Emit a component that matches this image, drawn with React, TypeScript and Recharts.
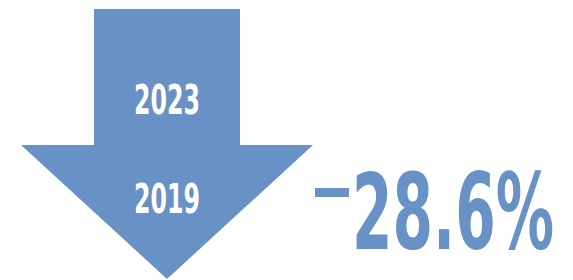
import { BarChart, Bar, XAxis, YAxis, LabelList } from "recharts";

const years = ["2023", "2019"];
const changes = [-28.6];

const data = changes.map((c) => ({
  name: `${years[1]}-${years[0]}`,
  drop: Math.abs(c),
  change: c,
}));

const BLUE = "#6892c5";
const FONT = "'Liberation Sans Narrow', 'DejaVu Sans Condensed', 'Roboto', sans-serif";

const ArrowShape = (props: any) => {
  const { x, y, width: w, height: h } = props;
  const sl = x + w * (73 / 292);
  const sr = x + w * (219 / 292);
  const hb = y + h * (136 / 270);
  const cx = x + w / 2;
  const pts = [
    [sl, y],
    [sr, y],
    [sr, hb],
    [x + w, hb],
    [cx, y + h],
    [x, hb],
    [sl, hb],
  ]
    .map((p) => p.join(","))
    .join(" ");
  return (
    <g>
      <polygon points={pts} fill={BLUE} />
      <text
        x={cx}
        y={y + 105}
        textAnchor="middle"
        fill="#fff"
        fontFamily={FONT}
        fontWeight="bold"
        fontSize={41}
        textLength={66}
        lengthAdjust="spacingAndGlyphs"
      >
        {years[0]}
      </text>
      <text
        x={cx}
        y={y + 204}
        textAnchor="middle"
        fill="#fff"
        fontFamily={FONT}
        fontWeight="bold"
        fontSize={41}
        textLength={66}
        lengthAdjust="spacingAndGlyphs"
      >
        {years[1]}
      </text>
    </g>
  );
};

// sign is drawn on its own: in the source it sits high and wide
const PctLabel = (props: any) => {
  const { x, y, width, height, value } = props;
  const left = x + width;
  const base = y + height - 30;
  const sign = value < 0 ? "-" : "+";
  const num = `${Math.abs(value)}%`;
  return (
    <g fill={BLUE} fontFamily={FONT} fontWeight="bold">
      <text
        x={left - 4}
        y={base - 38}
        fontSize={62}
        textLength={46}
        lengthAdjust="spacingAndGlyphs"
      >
        {sign}
      </text>
      <text
        x={left + 39}
        y={base}
        fontSize={106}
        textLength={202}
        lengthAdjust="spacingAndGlyphs"
      >
        {num}
      </text>
    </g>
  );
};

export default function App() {
  return (
    <div style={{ position: "absolute", left: 0, top: 0, background: "#fff" }}>
      <BarChart
        width={573}
        height={280}
        data={data}
        margin={{ top: 9, right: 260, bottom: 1, left: 21 }}
        barCategoryGap={0}
      >
        <XAxis dataKey="name" hide />
        <YAxis hide domain={[0, 28.6]} />
        <Bar dataKey="drop" shape={<ArrowShape />} isAnimationActive={false}>
          <LabelList dataKey="change" content={<PctLabel />} />
        </Bar>
      </BarChart>
    </div>
  );
}
